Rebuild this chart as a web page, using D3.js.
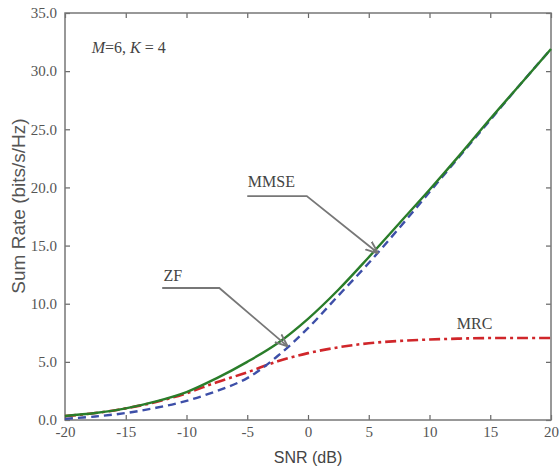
<!DOCTYPE html>
<html lang="en">
<head>
    <meta charset="UTF-8">
    <title>Sum Rate vs SNR</title>
    <style>
        body { margin: 0; background: #fff; }
        svg { display: block; }
    </style>
</head>
<body>
    <svg width="559" height="472"></svg>
    <script src="https://d3js.org/d3.v7.min.js"></script>
    <script>
        // values, every 2.5 dB
        const snr  = [-20, -17.5, -15, -12.5, -10, -7.5, -5, -2.5, 0, 2.5, 5, 7.5, 10, 12.5, 15, 17.5, 20]
        const mmse = [0.35, 0.6, 1.0, 1.6, 2.4, 3.6, 5.0, 6.6, 8.7, 11.2, 14.0, 16.9, 19.8, 22.8, 25.9, 28.9, 31.9]
        const zf   = [0.1, 0.3, 0.6, 1.05, 1.65, 2.5, 3.6, 5.5, 7.9, 10.7, 13.5, 16.5, 19.6, 22.7, 25.8, 28.9, 31.9]
        const mrc  = [0.33, 0.6, 1.0, 1.55, 2.3, 3.25, 4.1, 5.05, 5.75, 6.25, 6.6, 6.8, 6.92, 7.0, 7.05, 7.05, 7.05]

        const xTicks = [-20, -15, -10, -5, 0, 5, 10, 15, 20]
        const yTicks = [0, 5, 10, 15, 20, 25, 30, 35]

        const svg = d3.select('svg')
        const mLeft = 65, mRight = 551, mTop = 13, mBottom = 420

        const x = d3.scaleLinear().domain([-20, 20]).range([mLeft, mRight])
        const y = d3.scaleLinear().domain([0, 35]).range([mBottom, mTop])

        const serif = '"Liberation Serif", "DejaVu Serif", serif'
        const sans = '"Liberation Sans", "DejaVu Sans", sans-serif'

        const styleAxis = g => {
            g.select('.domain').remove()
            g.selectAll('.tick line').attr('stroke', '#666').attr('stroke-width', 1.2)
            g.selectAll('.tick text')
                .attr('fill', '#555')
                .style('font-family', serif)
                .style('font-size', '15px')
        }

        svg.append('g')
            .attr('transform', `translate(0,${mBottom})`)
            .call(d3.axisBottom(x).tickValues(xTicks).tickSize(-5).tickPadding(6).tickFormat(d => String(d)))
            .call(styleAxis)

        svg.append('g')
            .attr('transform', `translate(0,${mTop})`)
            .call(d3.axisTop(x).tickValues(xTicks).tickSize(-5).tickFormat(''))
            .call(styleAxis)

        svg.append('g')
            .attr('transform', `translate(${mLeft},0)`)
            .call(d3.axisLeft(y).tickValues(yTicks).tickSize(-5).tickPadding(8).tickFormat(d3.format('.1f')))
            .call(styleAxis)

        svg.append('g')
            .attr('transform', `translate(${mRight},0)`)
            .call(d3.axisRight(y).tickValues(yTicks).tickSize(-5).tickFormat(''))
            .call(styleAxis)

        // frame
        svg.append('rect')
            .attr('x', mLeft).attr('y', mTop)
            .attr('width', mRight - mLeft).attr('height', mBottom - mTop)
            .attr('fill', 'none').attr('stroke', '#777').attr('stroke-width', 1.5)

        // axis titles
        svg.append('text')
            .attr('x', x(0)).attr('y', 463)
            .attr('text-anchor', 'middle')
            .attr('fill', '#444')
            .style('font-family', sans).style('font-size', '16px')
            .text('SNR (dB)')

        // y title: the tops of its letters are cut off in the original
        svg.append('clipPath').attr('id', 'ylab')
            .append('rect').attr('x', 11).attr('y', 0).attr('width', 40).attr('height', 472)
        svg.append('g').attr('clip-path', 'url(#ylab)')
            .append('text')
            .attr('transform', 'translate(25,206) rotate(-90)')
            .attr('text-anchor', 'middle')
            .attr('fill', '#555')
            .style('font-family', sans).style('font-size', '19px')
            .text('Sum Rate (bits/s/Hz)')

        const line = vals => d3.line()
            .x((d, i) => x(snr[i]))
            .y(d => y(d))
            .curve(d3.curveCatmullRom)(vals)

        svg.append('path').attr('d', line(mrc))
            .attr('fill', 'none').attr('stroke', '#d0262a').attr('stroke-width', 2.6)
            .attr('stroke-dasharray', '11,4,3,4')
        svg.append('path').attr('d', line(zf))
            .attr('fill', 'none').attr('stroke', '#3d4fa8').attr('stroke-width', 2.4)
            .attr('stroke-dasharray', '8,5')
        svg.append('path').attr('d', line(mmse))
            .attr('fill', 'none').attr('stroke', '#2a7d2a').attr('stroke-width', 2.4)

        // annotations (data units)
        svg.append('defs').append('marker')
            .attr('id', 'arr')
            .attr('viewBox', '0 0 10 10').attr('refX', 9).attr('refY', 5)
            .attr('markerWidth', 7).attr('markerHeight', 7)
            .attr('orient', 'auto')
            .append('path').attr('d', 'M0,1 L10,5 L0,9').attr('fill', 'none').attr('stroke', '#777').attr('stroke-width', 1.5)

        const leaders = [
            { label: 'MMSE', text: [-4.95, 20.0], pts: [[-5.0, 19.25], [-0.1, 19.25], [5.7, 14.4]] },
            { label: 'ZF', text: [-11.9, 11.95], pts: [[-12.0, 11.35], [-7.3, 11.35], [-1.75, 6.4]] }
        ]
        leaders.forEach(a => {
            svg.append('path')
                .attr('d', d3.line().x(p => x(p[0])).y(p => y(p[1]))(a.pts))
                .attr('fill', 'none').attr('stroke', '#777').attr('stroke-width', 1.8)
                .attr('marker-end', 'url(#arr)')
            svg.append('text')
                .attr('x', x(a.text[0])).attr('y', y(a.text[1]))
                .attr('fill', '#444')
                .style('font-family', serif).style('font-size', '16px')
                .text(a.label)
        })

        svg.append('text')
            .attr('x', x(12.25)).attr('y', y(7.8))
            .attr('fill', '#444')
            .style('font-family', serif).style('font-size', '16px')
            .text('MRC')

        const info = svg.append('text')
            .attr('x', x(-17.8)).attr('y', y(31.6))
            .attr('fill', '#444')
            .style('font-family', serif).style('font-size', '16px')
        info.append('tspan').style('font-style', 'italic').text('M')
        info.append('tspan').text('=6, ')
        info.append('tspan').style('font-style', 'italic').text('K')
        info.append('tspan').text(' = 4')
    </script>
</body>
</html>
